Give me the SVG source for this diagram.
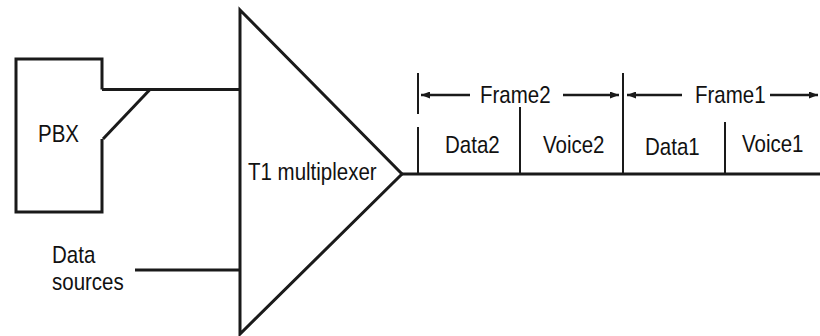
<svg xmlns="http://www.w3.org/2000/svg" width="820" height="336" viewBox="0 0 820 336">
  <defs>
    <style>
      .ln { fill: none; stroke: #1a1a1a; stroke-width: 3; stroke-linejoin: miter; }
      .tk { fill: none; stroke: #1a1a1a; stroke-width: 2; }
      .ar { fill: none; stroke: #1a1a1a; stroke-width: 2.5; }
      .lbl { font-family: "Liberation Sans", Arial, sans-serif; font-size: 20.5px; fill: #111; }
    </style>
    <marker id="arrowR" viewBox="0 0 9 7" refX="9" refY="3.5" markerWidth="9" markerHeight="7" markerUnits="userSpaceOnUse" orient="auto">
      <path d="M0,0 L9,3.5 L0,7 Z" fill="#1a1a1a"/>
    </marker>
    <marker id="arrowL" viewBox="0 0 9 7" refX="0" refY="3.5" markerWidth="9" markerHeight="7" markerUnits="userSpaceOnUse" orient="auto">
      <path d="M9,0 L0,3.5 L9,7 Z" fill="#1a1a1a"/>
    </marker>
  </defs>
  <rect width="820" height="336" fill="#fff"/>

  <!-- connectors: feeds into the multiplexer and the output line -->
  <g id="connectors">
    <path class="ln" d="M102,89.5 L240,89.5"/>
    <path class="ln" d="M150,89.5 L103,139"/>
    <path class="ln" d="M135,270 L240,270"/>
    <path class="ln" d="M402,174 L820,174"/>
  </g>

  <!-- PBX -->
  <g id="pbx">
    <path class="ln" d="M102,139 L102,212 L16,212 L16,59 L102,59 L102,89.5"/>
    <text class="lbl" transform="translate(38,141.5) scale(1,1.15)">PBX</text>
  </g>

  <!-- data sources -->
  <g id="data-sources">
    <text class="lbl" transform="translate(52,263) scale(1,1.15)">Data</text>
    <text class="lbl" transform="translate(52,290) scale(1,1.15)">sources</text>
  </g>

  <!-- T1 multiplexer -->
  <g id="multiplexer">
    <path class="ln" d="M240,10 L402,174 L240,334 Z"/>
    <rect x="243" y="158" width="141" height="29" fill="#fff"/>
    <text class="lbl" transform="translate(248,179.5) scale(1,1.15)">T1 multiplexer</text>
  </g>

  <!-- frame timeline -->
  <g id="frame2">
    <path class="tk" d="M418,73 L418,114"/>
    <path class="tk" d="M418,127 L418,174"/>
    <path class="ar" d="M421,95 L470,95" marker-start="url(#arrowL)"/>
    <path class="ar" d="M563,95 L619,95" marker-end="url(#arrowR)"/>
    <text class="lbl" transform="translate(480,103) scale(1,1.15)">Frame2</text>
    <path class="tk" d="M520,107 L520,174"/>
    <text class="lbl" transform="translate(445,153) scale(1,1.15)">Data2</text>
    <text class="lbl" transform="translate(543,153) scale(1,1.15)">Voice2</text>
  </g>

  <g id="frame1">
    <path class="tk" d="M623,73 L623,174"/>
    <path class="ar" d="M627,95 L682,95" marker-start="url(#arrowL)"/>
    <path class="ar" d="M770,95 L818,95" marker-end="url(#arrowR)"/>
    <text class="lbl" transform="translate(695,103) scale(1,1.15)">Frame1</text>
    <path class="tk" d="M725,122 L725,174"/>
    <text class="lbl" transform="translate(645,155) scale(1,1.15)">Data1</text>
    <text class="lbl" transform="translate(742,152) scale(1,1.15)">Voice1</text>
  </g>
</svg>
